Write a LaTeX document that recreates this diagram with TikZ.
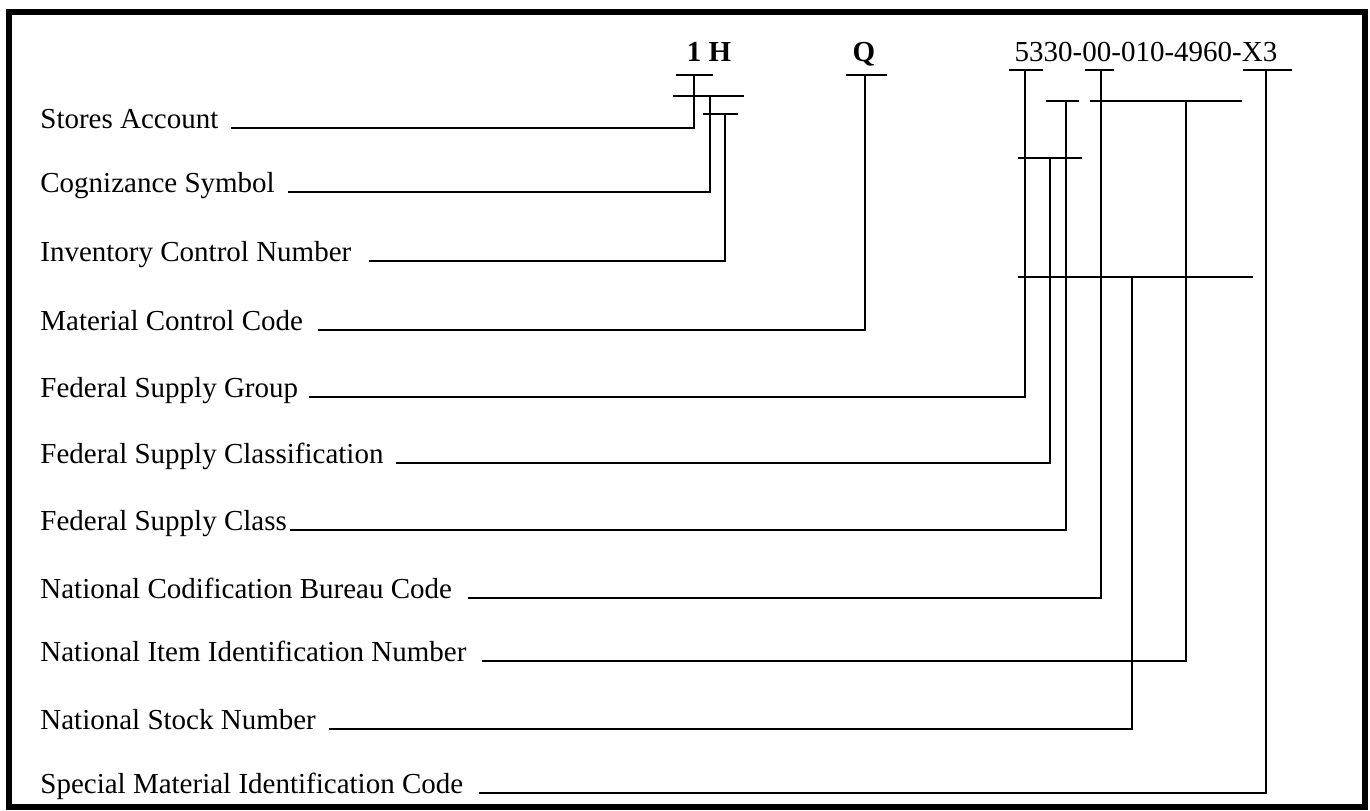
\documentclass[tikz,border=0pt]{standalone}
\usepackage{fontspec}
\setmainfont{Liberation Serif}

\begin{document}
\begin{tikzpicture}[x=0.5pt, y=-0.5pt,
    fieldname/.style={anchor=base west, inner sep=0pt, font=\fontsize{14.5}{17}\selectfont},
    codepart/.style={anchor=base, inner sep=0pt, font=\fontsize{14.5}{17}\selectfont},
    leader/.style={line width=1pt},
    tick/.style={line width=1pt},
]
  \useasboundingbox (0,0) rectangle (1370,810);
  \draw[line width=3pt] (8.5,11.5) rectangle (1365,806.5);

  % the stock number as printed
  \node[codepart, font=\fontsize{14.5}{17}\selectfont\bfseries] (acct) at (709,61) {1 H};
  \node[codepart, font=\fontsize{14.5}{17}\selectfont\bfseries] (mcode) at (864,61) {Q};
  \node[codepart] (stock) at (1146,61) {5330-00-010-4960-X3};

  % fields: name/text/baseline/tap x/gap/bar from/bar to/bar y
  \foreach \id/\txt/\yy/\xx/\gap/\ba/\bb/\by in {
      sa/Stores Account/128/694/12/676/713/75,
      cs/Cognizance Symbol/192/710/13/673/744/96,
      icn/Inventory Control Number/261/725/17/703/738/114,
      mcc/Material Control Code/330/865/15/846/887/75,
      fsg/Federal Supply Group/397/1025/10/1009/1043/70,
      fscn/Federal Supply Classification/463/1050/12/1018/1082/158,
      fsc/Federal Supply Class/530/1066/3/1046/1079/101,
      ncb/National Codification Bureau Code/598/1101/16/1085/1114/70,
      niin/National Item Identification Number/661/1186/15/1090/1242/101,
      nsn/National Stock Number/729/1132/13/1018/1253/277,
      smic/Special Material Identification Code/793/1266/15/1243/1292/70}{
    \node[fieldname] (\id) at (40,\yy) {\txt};
    \coordinate (\id-top) at (\xx,\by);
    \draw[tick] (\ba,\by) -- (\bb,\by);
    \draw[leader] ([shift={(\gap,0)}]\id.base east) -| (\id-top);
  }
\end{tikzpicture}
\end{document}
